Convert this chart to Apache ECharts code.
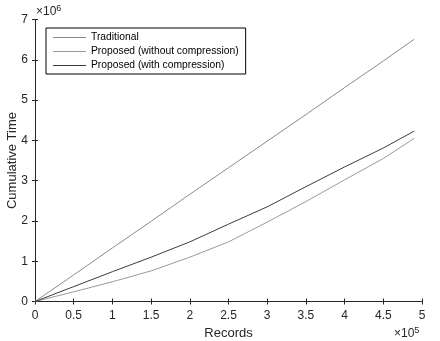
<!DOCTYPE html>
<html>
<head>
<meta charset="utf-8">
<script src="https://cdn.jsdelivr.net/npm/echarts@6/dist/echarts.min.js"></script>
<style>
  html, body { margin: 0; padding: 0; background: #fff; }
  #chart { width: 440px; height: 341px; }
</style>
</head>
<body>
<div id="chart"></div>
<script>
// records (x) and cumulative time in units of 1e6 (y)
const records = [0, 50000, 100000, 150000, 200000, 250000, 300000, 350000, 400000, 450000, 490000]
const traditional = [0, 0.66, 1.33, 1.99, 2.66, 3.32, 3.98, 4.64, 5.31, 5.97, 6.51]
const withoutCompression = [0, 0.24, 0.49, 0.76, 1.10, 1.48, 1.97, 2.48, 3.02, 3.55, 4.05]
const withCompression = [0, 0.37, 0.74, 1.10, 1.48, 1.92, 2.35, 2.85, 3.34, 3.81, 4.23]
const names = ['Traditional', 'Proposed (without compression)', 'Proposed (with compression)']

const txt = '#262626'
const font = 'Liberation Sans'

function pairs(ys) {
  return records.map((x, i) => [x, ys[i] * 1e6])
}

const chart = echarts.init(document.getElementById('chart'))

const option = {
  animation: false,
  textStyle: { fontFamily: font },
  grid: {
    left: 35,
    top: 19.5,
    width: 387,
    height: 282,
    containLabel: false,
    outerBoundsMode: 'none'
  },
  legend: {
    orient: 'vertical',
    left: 46,
    top: 28,
    padding: [3, 7, 2, 7],
    borderColor: '#000',
    borderWidth: 1,
    itemWidth: 33,
    itemHeight: 1,
    itemGap: 1,
    icon: 'rect',
    textStyle: { fontSize: 10.3, lineHeight: 13, color: '#000', fontFamily: font },
    data: names
  },
  xAxis: [
    {
      type: 'value',
      min: 0,
      max: 500000,
      interval: 50000,
      name: 'Records',
      nameLocation: 'middle',
      nameGap: 25,
      nameMoveOverlap: false,
      nameTextStyle: { fontSize: 13, color: txt },
      axisLine: { lineStyle: { color: txt } },
      axisTick: { inside: true, length: 3, lineStyle: { color: txt } },
      axisLabel: {
        fontSize: 12,
        color: txt,
        margin: 8,
        formatter: v => String(v / 1e5)
      },
      splitLine: { show: false }
    },
    {
      type: 'value',
      position: 'top',
      min: 0,
      max: 500000,
      interval: 50000,
      axisLine: { show: true, lineStyle: { color: txt } },
      axisTick: { inside: true, length: 3, lineStyle: { color: txt } },
      axisLabel: { show: false },
      splitLine: { show: false }
    }
  ],
  yAxis: [
    {
      type: 'value',
      min: 0,
      max: 7e6,
      interval: 1e6,
      name: 'Cumulative Time',
      nameLocation: 'middle',
      nameGap: 16,
      nameMoveOverlap: false,
      nameTextStyle: { fontSize: 13, color: txt },
      axisLine: { show: true, lineStyle: { color: txt } },
      axisTick: { show: true, inside: true, length: 3, lineStyle: { color: txt } },
      axisLabel: {
        fontSize: 12,
        color: txt,
        margin: 7,
        formatter: v => String(v / 1e6)
      },
      splitLine: { show: false }
    },
    {
      type: 'value',
      position: 'right',
      min: 0,
      max: 7e6,
      interval: 1e6,
      axisLine: { show: true, lineStyle: { color: txt } },
      axisTick: { show: true, inside: true, length: 3, lineStyle: { color: txt } },
      axisLabel: { show: false },
      splitLine: { show: false }
    }
  ],
  graphic: [
    {
      type: 'text',
      left: 36,
      top: 4,
      style: {
        text: '{a|×10}{b|6}',
        rich: {
          a: { fontSize: 12, fill: txt, fontFamily: font, padding: [6, 0, 0, 0] },
          b: { fontSize: 9, fill: txt, fontFamily: font }
        }
      }
    },
    {
      type: 'text',
      left: 394,
      top: 326,
      style: {
        text: '{a|×10}{b|5}',
        rich: {
          a: { fontSize: 12, fill: txt, fontFamily: font, padding: [6, 0, 0, 0] },
          b: { fontSize: 9, fill: txt, fontFamily: font }
        }
      }
    }
  ],
  series: [
    {
      name: names[0],
      type: 'line',
      symbol: 'none',
      lineStyle: { color: '#8a8a8a', width: 1 },
      itemStyle: { color: '#8a8a8a' },
      data: pairs(traditional)
    },
    {
      name: names[1],
      type: 'line',
      symbol: 'none',
      lineStyle: { color: '#9a9a9a', width: 1 },
      itemStyle: { color: '#9a9a9a' },
      data: pairs(withoutCompression)
    },
    {
      name: names[2],
      type: 'line',
      symbol: 'none',
      lineStyle: { color: '#3c3c3c', width: 1 },
      itemStyle: { color: '#3c3c3c' },
      data: pairs(withCompression)
    }
  ]
}

chart.setOption(option)
</script>
</body>
</html>
